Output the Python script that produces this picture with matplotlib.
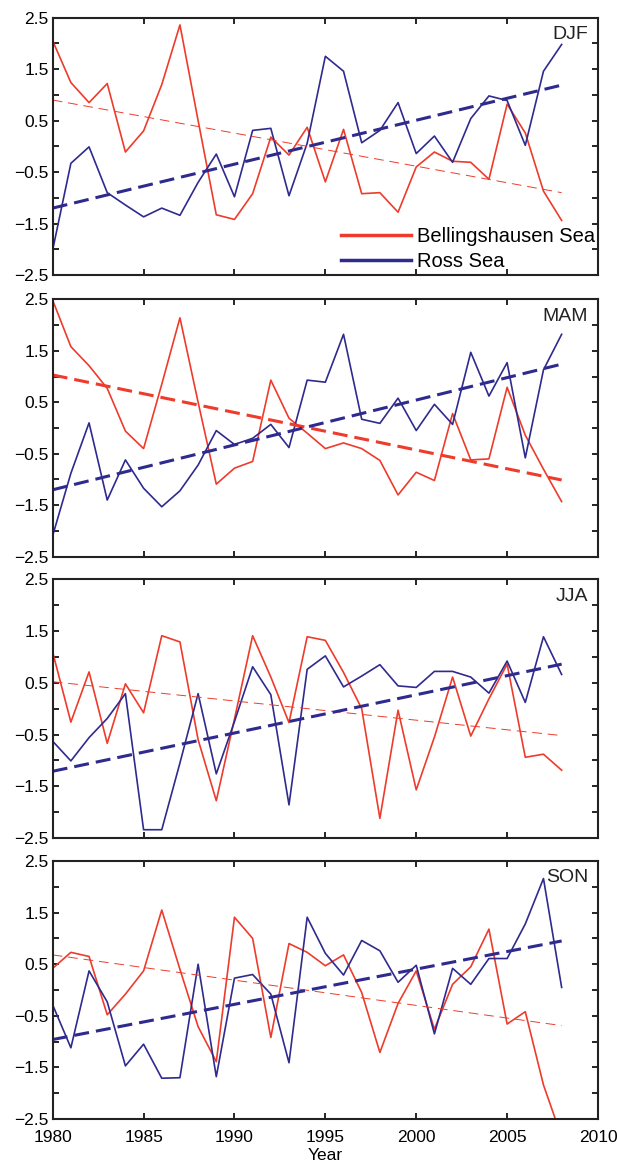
import numpy as np
import matplotlib
matplotlib.use("Agg")
import matplotlib.pyplot as plt

plt.rcParams["font.family"] = ["Liberation Sans", "DejaVu Sans"]

years = np.arange(1980, 2009)
seasons = ["DJF", "MAM", "JJA", "SON"]

# Bellingshausen Sea anomalies per season
bell_djf = [2.05, 1.24, 0.85, 1.22, -0.11, 0.30, 1.20, 2.36, 0.50, -1.33,
            -1.42, -0.92, 0.18, -0.17, 0.37, -0.69, 0.33, -0.92, -0.90, -1.28,
            -0.40, -0.11, -0.29, -0.31, -0.64, 0.82, 0.26, -0.87, -1.44]
bell_mam = [2.48, 1.58, 1.21, 0.77, -0.06, -0.40, 0.85, 2.14, 0.50, -1.09,
            -0.78, -0.65, 0.93, 0.19, -0.10, -0.40, -0.29, -0.40, -0.63, -1.30,
            -0.86, -1.02, 0.28, -0.62, -0.60, 0.79, -0.14, -0.80, -1.43]
bell_jja = [1.09, -0.26, 0.71, -0.67, 0.48, -0.08, 1.41, 1.29, -0.60, -1.78,
            -0.20, 1.41, 0.61, -0.27, 1.39, 1.32, 0.70, 0.00, -2.12, -0.03,
            -1.57, -0.55, 0.61, -0.53, 0.19, 0.86, -0.94, -0.88, -1.19]
bell_son = [0.42, 0.73, 0.65, -0.48, -0.08, 0.37, 1.55, 0.40, -0.71, -1.39,
            1.41, 1.00, -0.92, 0.90, 0.73, 0.47, 0.68, -0.05, -1.21, -0.26,
            0.37, -0.76, 0.11, 0.45, 1.18, -0.66, -0.42, -1.84, -2.85]

# Ross Sea anomalies per season
ross_djf = [-2.01, -0.33, -0.01, -0.90, -1.14, -1.37, -1.20, -1.34, -0.70, -0.15,
            -0.98, 0.31, 0.35, -0.96, 0.06, 1.75, 1.46, 0.07, 0.31, 0.85,
            -0.14, 0.20, -0.31, 0.54, 0.98, 0.89, 0.02, 1.46, 1.98]
ross_mam = [-2.09, -0.88, 0.10, -1.40, -0.62, -1.17, -1.53, -1.22, -0.72, -0.05,
            -0.32, -0.20, 0.07, -0.38, 0.93, 0.89, 1.82, 0.17, 0.09, 0.58,
            -0.05, 0.46, 0.07, 1.47, 0.62, 1.27, -0.58, 1.13, 1.82]
ross_jja = [-0.63, -1.01, -0.56, -0.19, 0.29, -2.34, -2.34, -1.05, 0.29, -1.26,
            -0.25, 0.81, 0.27, -1.86, 0.76, 1.02, 0.42, 0.63, 0.85, 0.44,
            0.41, 0.72, 0.72, 0.61, 0.30, 0.92, 0.12, 1.39, 0.66]
ross_son = [-0.29, -1.12, 0.37, -0.23, -1.47, -1.05, -1.71, -1.70, 0.50, -1.68,
            0.23, 0.30, -0.08, -1.41, 1.41, 0.71, 0.29, 0.96, 0.76, 0.15,
            0.48, -0.85, 0.42, 0.11, 0.61, 0.61, 1.28, 2.16, 0.05]

# linear trend end values (1980, 2008)
bell_trend = [[0.90, -0.90], [1.03, -1.01], [0.52, -0.52], [0.68, -0.69]]
ross_trend = [[-1.20, 1.19], [-1.20, 1.24], [-1.21, 0.86], [-0.96, 0.95]]
bell_trend_bold = [False, True, False, False]

bell_all = [bell_djf, bell_mam, bell_jja, bell_son]
ross_all = [ross_djf, ross_mam, ross_jja, ross_son]

ymajor = [2.5, 1.5, 0.5, -0.5, -1.5, -2.5]
ylabels = ["2.5", "1.5", "0.5", "\u22120.5", "\u22121.5", "\u22122.5"]
yminor = [2, 1, 0, -1, -2]
xticks = [1980, 1985, 1990, 1995, 2000, 2005, 2010]

RED = "#EE3B2B"
BLUE = "#2F2A8E"

fig = plt.figure(figsize=(6.17, 11.61), dpi=100)
W, H = 617, 1161
left, right = 52.7, 598
panels = [(17.7, 275), (299.3, 556.7), (579.3, 838), (861, 1119)]

for i, (top, bot) in enumerate(panels):
    ax = fig.add_axes([left / W, 1 - bot / H, (right - left) / W, (bot - top) / H])
    ax.plot(years, bell_all[i], color=RED, lw=1.2, label="Bellingshausen Sea")
    ax.plot(years, ross_all[i], color=BLUE, lw=1.2, label="Ross Sea")

    ends = [years[0], years[-1]]
    if bell_trend_bold[i]:
        ax.plot(ends, bell_trend[i], color=RED, lw=2.2, linestyle=(0, (4.9, 2.3)))
    else:
        ax.plot(ends, bell_trend[i], color=RED, lw=0.7, linestyle=(0, (10, 6)))
    ax.plot(ends, ross_trend[i], color=BLUE, lw=2.2, linestyle=(0, (4.9, 2.3)))

    ax.set_xlim(1980, 2010)
    ax.set_ylim(-2.5, 2.5)
    ax.set_yticks(ymajor)
    ax.set_yticklabels(ylabels, fontsize=12.5)
    ax.set_yticks(yminor, minor=True)
    ax.set_xticks(xticks)
    if i == 3:
        ax.set_xticklabels([str(x) for x in xticks], fontsize=12.5)
        ax.set_xlabel("Year", fontsize=12.5, labelpad=2)
        ax.tick_params(axis="x", pad=8)
    else:
        ax.set_xticklabels([])
    ax.tick_params(which="both", direction="in", top=True, right=True,
                   length=4.5, width=1.2)
    ax.tick_params(axis="y", pad=3)
    for sp in ax.spines.values():
        sp.set_linewidth(1.5)
        sp.set_color("#222222")

    ax.text(0.982, 0.935, seasons[i], transform=ax.transAxes, ha="right",
            va="center", fontsize=14, color="#222222")

    if i == 0:
        ax.legend(loc="lower right", bbox_to_anchor=(0.995, 0.015), frameon=False,
                  fontsize=14.5, handlelength=3.5, handletextpad=0.3,
                  borderaxespad=0.0, borderpad=0.0, labelspacing=0.3)
        for ln in ax.get_legend().get_lines():
            ln.set_linewidth(2.5)

fig.savefig("out.png", dpi=100)
